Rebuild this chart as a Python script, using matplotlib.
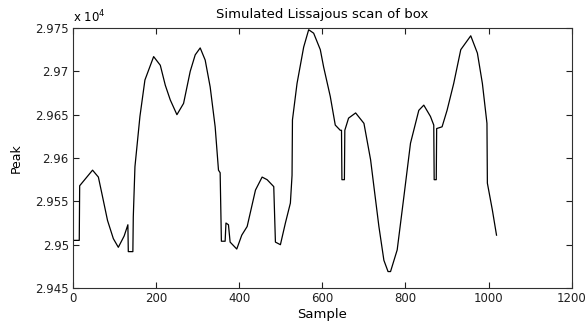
import matplotlib.pyplot as plt

# simulated peak value along the Lissajous scan
sample = [1, 15, 16, 47, 61, 69, 83, 97, 109, 123, 132, 133, 144, 145, 149, 161,
          173, 194, 210, 222, 234, 250, 266, 282, 294, 306, 318, 330, 342, 350,
          354, 357, 366, 368, 374, 378, 394, 406, 419, 439, 455, 467, 483, 487,
          499, 511, 523, 527, 528, 539, 555, 567, 579, 595, 603, 619, 631, 643,
          646, 647, 653, 654, 663, 680, 700, 716, 724, 736, 748, 758, 764, 780,
          796, 812, 832, 844, 860, 868, 869, 874, 875, 888, 900, 916, 933, 957,
          973, 985, 996, 997, 1009, 1019]
peak = [29505, 29505, 29568, 29586, 29578, 29560, 29528, 29507, 29497, 29510,
        29523, 29492, 29492, 29532, 29590, 29648, 29690, 29717, 29707, 29684,
        29667, 29650, 29663, 29700, 29719, 29727, 29713, 29682, 29636, 29586,
        29583, 29504, 29504, 29525, 29523, 29503, 29495, 29511, 29521, 29563,
        29578, 29575, 29567, 29503, 29500, 29525, 29548, 29580, 29644, 29686,
        29728, 29748, 29744, 29725, 29705, 29671, 29638, 29632, 29632, 29575,
        29575, 29632, 29646, 29652, 29640, 29598, 29567, 29521, 29482, 29469,
        29469, 29494, 29555, 29617, 29655, 29661, 29648, 29638, 29575, 29575,
        29634, 29636, 29655, 29686, 29725, 29741, 29721, 29686, 29640, 29571,
        29540, 29511]

xticks = [0, 200, 400, 600, 800, 1000, 1200]
yticks = [2.945, 2.95, 2.955, 2.96, 2.965, 2.97, 2.975]
scale = 1e4

plt.rcParams['font.family'] = ['DejaVu Sans']

fig = plt.figure(figsize=(5.87, 3.24), dpi=100)
ax = fig.add_axes([0.1244, 0.111, 0.8496, 0.8026])

ax.plot(sample, [p / scale for p in peak], color='black', linewidth=0.9)

ax.set_xlim(0, 1200)
ax.set_ylim(2.945, 2.975)
ax.set_xticks(xticks)
ax.set_yticks(yticks)
ax.set_xticklabels([str(t) for t in xticks])
ax.set_yticklabels(['%g' % t for t in yticks])
ax.tick_params(direction='in', top=True, right=True, labelsize=8.5, length=4,
               width=0.8, colors='#202020', pad=3)
for s in ax.spines.values():
    s.set_linewidth(0.8)
    s.set_color('#303030')

ax.set_title('Simulated Lissajous scan of box', fontsize=9.5, pad=7)
ax.set_xlabel('Sample', fontsize=9.5, labelpad=2)
ax.set_ylabel('Peak', fontsize=9, labelpad=9)
ax.text(0.0, 1.012, r'x 10$^{4}$', transform=ax.transAxes, fontsize=8.5,
        ha='left', va='bottom')

fig.savefig('out.png', dpi=100)
